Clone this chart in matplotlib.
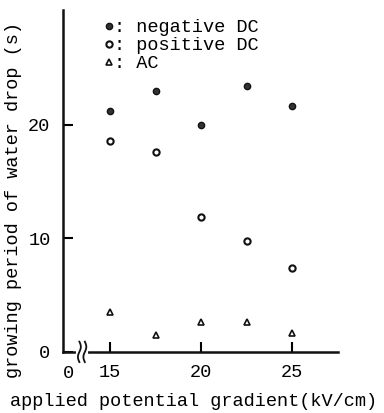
import matplotlib
matplotlib.use("Agg")
import matplotlib.pyplot as plt
import numpy as np

# ── Data ──────────────────────────────────────────────────────────────────────
gradient    = [15, 17.5, 20, 22.5, 25]
negative_dc = [21.2, 23.0, 20.0, 23.4, 21.6]
positive_dc = [18.6, 17.6, 11.9, 9.75, 7.4]
ac          = [3.5, 1.45, 2.67, 2.67, 1.65]

x_ticks = [15, 20, 25]
y_ticks = [0, 10, 20]

plt.rcParams["font.family"] = ["Liberation Mono", "DejaVu Sans Mono"]
FS = 13.4

fig = plt.figure(figsize=(3.84, 4.13), dpi=100)
ax = fig.add_axes([0.164, 0.148, 0.716, 0.828])

ax.plot(gradient, negative_dc, "o", ms=4.5, color="#333333", mec="#111111",
        label=": negative DC")
ax.plot(gradient, positive_dc, "o", ms=4.5, mfc="white", mec="#111111", mew=1.5,
        label=": positive DC")
ax.plot(gradient, ac, "^", ms=4, mfc="white", mec="#111111", mew=1.2,
        label=": AC")

ax.set_xlim(12.42, 27.5)
ax.set_ylim(0, 30.1)
ax.set_xticks(x_ticks)
ax.set_yticks(y_ticks)
ax.tick_params(direction="in", length=7, width=1.5, labelsize=FS, pad=9)

for s in ["top", "right"]:
    ax.spines[s].set_visible(False)
for s in ["left", "bottom"]:
    ax.spines[s].set_linewidth(1.8)
    ax.spines[s].set_color("#111111")

# broken axis: "0" label and squiggle marks
ax.text(12.72, -0.062, "0", transform=ax.get_xaxis_transform(), ha="center",
        va="center", fontsize=FS)
t = np.linspace(-1, 1, 30)
ax.plot([13.25, 13.7], [0, 0], color="white", lw=3, clip_on=False, zorder=4)
for dx in (13.32, 13.62):
    ax.plot(dx + 0.08 * np.sin(t * np.pi), t * 0.9, color="#111111", lw=1.3,
            clip_on=False, zorder=5)

ax.set_xlabel("applied potential gradient(kV/cm)", fontsize=FS)
ax.xaxis.set_label_coords(0.476, -0.12)
ax.set_ylabel("growing period of water drop (s)", fontsize=FS)
ax.yaxis.set_label_coords(-0.148, 0.445)

ax.legend(loc="upper left", bbox_to_anchor=(0.12, 1.0), frameon=False,
          fontsize=FS, handlelength=0.4, handletextpad=0.05, labelspacing=0.05,
          borderaxespad=0.1)

fig.savefig("out.png", dpi=100)
